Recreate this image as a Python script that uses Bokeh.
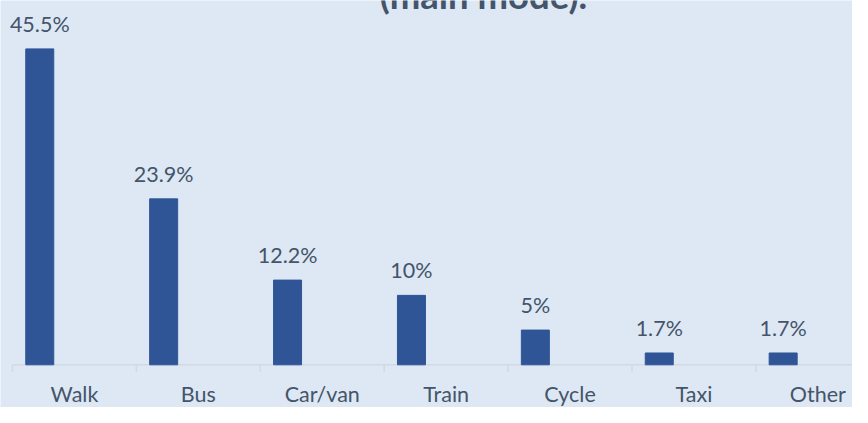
from bokeh.plotting import figure
from bokeh.models import Range1d, Label
from bokeh.core.properties import value
from bokeh.embed import file_html
from bokeh.resources import INLINE
import numpy as np

# ---- data ----
modes = ["Walk", "Bus", "Car/van", "Train", "Cycle", "Taxi", "Other"]
shares = [45.5, 23.9, 12.2, 10, 5, 1.7, 1.7]
title_text = "(main mode)."

# ---- style ----
BG = "#dde8f4"
BAR = "#2f5597"
TXT = "#44546a"
AXIS = "#d2d9e2"
FONT = "Lato"

W, H = 852, 407
slot_px = 123.9
px_per_unit = 6.943
base_px = 364.3          # zero line from top of figure
left_px = 12             # first category boundary from left

x0 = -left_px / slot_px
x1 = (W - left_px) / slot_px
y1 = base_px / px_per_unit
y0 = -(H - base_px) / px_per_unit

p = figure(width=W, height=H, output_backend="svg", toolbar_location=None,
           x_range=Range1d(x0, x1), y_range=Range1d(y0, y1),
           x_axis_location=None, y_axis_location=None,
           min_border_left=0, min_border_right=0, min_border_top=0, min_border_bottom=0,
           background_fill_color=BG, border_fill_color=BG, outline_line_color=None)
p.grid.visible = False

idx = np.arange(len(modes))
bar_x = idx + 0.22
centers = idx + 0.5

# category axis: baseline + boundary ticks
p.segment(x0=[0], y0=[0], x1=[len(modes)], y1=[0], line_color=AXIS, line_width=1.5)
bounds = np.arange(len(modes) + 1)
p.segment(x0=bounds, y0=np.zeros(len(bounds)), x1=bounds,
          y1=np.full(len(bounds), -7.2 / px_per_unit), line_color=AXIS, line_width=1.5)

p.vbar(x=bar_x, top=shares, bottom=0, width=0.226, fill_color=BAR, line_color=BAR)

labels = [f"{v:g}%" for v in shares]
p.text(x=bar_x, y=shares, text=labels, text_align="center", text_baseline="alphabetic",
       y_offset=-25, text_font=value(FONT), text_font_size="21.5px", text_color=TXT)

# category labels
p.text(x=centers, y=np.zeros(len(modes)), text=modes, text_align="center",
       text_baseline="alphabetic", y_offset=29,
       text_font=value(FONT), text_font_size="21.5px", text_color=TXT)

p.add_layout(Label(x=483, y=H + 6, x_units="screen", y_units="screen",
                   text=title_text, text_align="center", text_baseline="alphabetic",
                   text_font=FONT, text_font_style="bold", text_font_size="36.5px",
                   text_color=TXT))

open("out.html", "w").write(file_html(p, INLINE))
